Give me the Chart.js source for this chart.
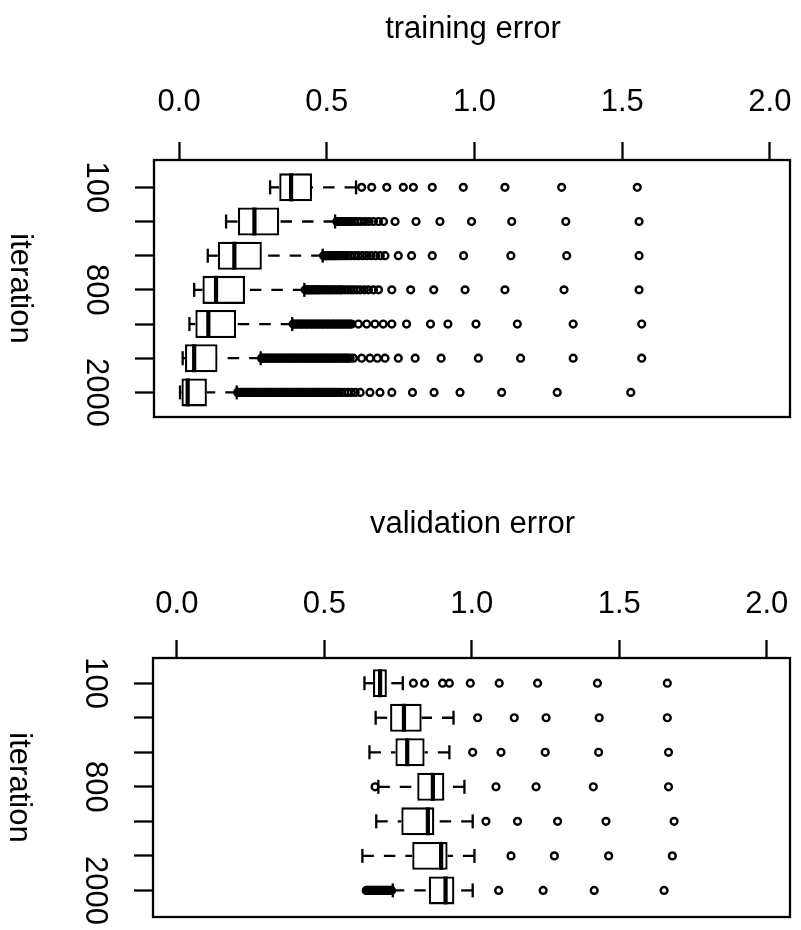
<!DOCTYPE html>
<html>
<head>
<meta charset="utf-8">
<script src="https://cdn.jsdelivr.net/npm/chart.js@4/dist/chart.umd.min.js"></script>
<style>
  html, body { margin: 0; padding: 0; background: #fff; }
  #wrap { position: relative; width: 801px; height: 930px; background: #fff; }
  canvas { position: absolute; left: 0; }
</style>
</head>
<body>
<div id="wrap">
  <canvas id="train" width="801" height="497" style="top:0"></canvas>
  <canvas id="valid" width="801" height="433" style="top:497px"></canvas>
</div>
<script>
// Row labels (only some iterations are labelled on the axis)
const iterationLabels = ['100', '', '', '800', '', '', '2000'];
const xTickValues = [0, 0.5, 1, 1.5, 2];
const xTickLabels = ['0.0', '0.5', '1.0', '1.5', '2.0'];

// ---- training error: five-number summaries per iteration row ----
const trainLower  = [0.308, 0.159, 0.097, 0.051, 0.035, 0.012, 0.003];
const trainQ1     = [0.339, 0.199, 0.131, 0.079, 0.055, 0.020, 0.008];
const trainMedian = [0.379, 0.255, 0.187, 0.125, 0.099, 0.051, 0.029];
const trainQ3     = [0.450, 0.339, 0.280, 0.223, 0.193, 0.130, 0.094];
const trainUpper  = [0.599, 0.528, 0.486, 0.424, 0.383, 0.276, 0.195];

const trainOut1 = [0.618, 0.652, 0.703, 0.759, 0.793, 0.857, 0.962, 1.103, 1.295, 1.551];
const trainOut2 = [0.534, 0.540, 0.546, 0.552, 0.559, 0.566, 0.574, 0.583, 0.593, 0.604,
  0.616, 0.629, 0.643, 0.658, 0.675, 0.692, 0.731, 0.802, 0.883, 0.990, 1.126, 1.309, 1.557];
const trainOut3 = [0.489, 0.493, 0.497, 0.501, 0.505, 0.509, 0.513, 0.517, 0.521, 0.526,
  0.531, 0.536, 0.542, 0.548, 0.555, 0.563, 0.572, 0.582, 0.594, 0.607, 0.621, 0.635,
  0.650, 0.665, 0.681, 0.697, 0.742, 0.787, 0.857, 0.963, 1.123, 1.312, 1.557];
const trainOut4 = [0.427, 0.432, 0.437, 0.442, 0.447, 0.452, 0.457, 0.462, 0.467, 0.472,
  0.477, 0.483, 0.489, 0.495, 0.501, 0.507, 0.513, 0.519, 0.526, 0.533, 0.540, 0.546,
  0.552, 0.562, 0.571, 0.581, 0.590, 0.601, 0.613, 0.627, 0.641, 0.658, 0.675, 0.720,
  0.784, 0.862, 0.968, 1.103, 1.303, 1.557];
const trainOut5 = [0.386, 0.391, 0.397, 0.402, 0.409, 0.414, 0.420, 0.427, 0.432, 0.438,
  0.445, 0.450, 0.456, 0.463, 0.468, 0.474, 0.481, 0.486, 0.492, 0.499, 0.504, 0.510,
  0.517, 0.522, 0.528, 0.535, 0.540, 0.547, 0.553, 0.559, 0.566, 0.571, 0.578, 0.584,
  0.607, 0.635, 0.663, 0.691, 0.720, 0.770, 0.851, 0.910, 1.005, 1.145, 1.334, 1.566];
const trainOut6 = [0.279, 0.284, 0.290, 0.296, 0.301, 0.307, 0.314, 0.319, 0.325, 0.332,
  0.337, 0.343, 0.350, 0.355, 0.361, 0.368, 0.373, 0.379, 0.386, 0.391, 0.397, 0.404,
  0.409, 0.415, 0.422, 0.427, 0.433, 0.440, 0.445, 0.451, 0.458, 0.463, 0.469, 0.476,
  0.481, 0.487, 0.494, 0.499, 0.505, 0.512, 0.517, 0.523, 0.530, 0.535, 0.541, 0.548,
  0.553, 0.560, 0.566, 0.572, 0.579, 0.590, 0.618, 0.646, 0.671, 0.697, 0.742, 0.799,
  0.887, 1.013, 1.156, 1.334, 1.566];
const trainOut7 = [0.198, 0.203, 0.209, 0.215, 0.220, 0.226, 0.232, 0.237, 0.243, 0.250,
  0.255, 0.261, 0.268, 0.273, 0.279, 0.286, 0.291, 0.297, 0.304, 0.309, 0.315, 0.322,
  0.327, 0.333, 0.340, 0.345, 0.351, 0.358, 0.363, 0.369, 0.376, 0.381, 0.387, 0.394,
  0.399, 0.405, 0.412, 0.417, 0.423, 0.430, 0.435, 0.441, 0.448, 0.453, 0.459, 0.466,
  0.471, 0.477, 0.484, 0.489, 0.495, 0.502, 0.507, 0.513, 0.520, 0.526, 0.533, 0.541,
  0.550, 0.560, 0.571, 0.583, 0.596, 0.613, 0.646, 0.680, 0.720, 0.790, 0.863, 0.951,
  1.092, 1.280, 1.529];

// ---- validation error ----
const validLower  = [0.636, 0.674, 0.653, 0.683, 0.676, 0.629, 0.732];
const validQ1     = [0.665, 0.723, 0.741, 0.815, 0.761, 0.798, 0.854];
const validMedian = [0.689, 0.770, 0.781, 0.868, 0.851, 0.896, 0.911];
const validQ3     = [0.712, 0.830, 0.840, 0.907, 0.873, 0.918, 0.941];
const validUpper  = [0.766, 0.938, 0.924, 0.975, 1.003, 1.009, 1.003];

const validOut1 = [0.802, 0.840, 0.901, 0.924, 0.995, 1.093, 1.223, 1.426, 1.663];
const validOut2 = [1.020, 1.144, 1.252, 1.432, 1.663];
const validOut3 = [1.003, 1.099, 1.249, 1.430, 1.667];
const validOut4 = [0.672, 1.082, 1.218, 1.412, 1.667];
const validOut5 = [1.048, 1.155, 1.291, 1.455, 1.686];
const validOut6 = [1.133, 1.280, 1.464, 1.680];
const validOut7 = [0.642, 0.646, 0.651, 0.655, 0.660, 0.664, 0.669, 0.673, 0.678, 0.682,
  0.687, 0.691, 0.696, 0.700, 0.705, 0.709, 0.714, 0.718, 0.723, 0.728,
  1.091, 1.242, 1.415, 1.652];

const FONT = '31px "Liberation Sans", Arial, Helvetica, sans-serif';
const LINE = 2.3;
Chart.defaults.font.family = '"Liberation Sans", Arial, Helvetica, sans-serif';
Chart.defaults.color = '#000';

// Whiskers, staples, medians, frame and text for one boxplot panel
function boxPanel(p) {
  return {
    id: 'boxPanel',
    beforeDatasetsDraw(chart) {
      const { ctx } = chart;
      const xs = chart.scales.x, ys = chart.scales.y;
      const bars = chart.getDatasetMeta(0).data;
      ctx.save();
      ctx.strokeStyle = '#000';
      ctx.lineWidth = LINE;
      ctx.lineCap = 'butt';
      p.lower.forEach((lo, i) => {
        const y = ys.getPixelForValue(i + 1);
        const h = bars[i].height;
        [[lo, p.q1[i]], [p.upper[i], p.q3[i]]].forEach(([end, hinge]) => {
          const xe = xs.getPixelForValue(end);
          const xh = xs.getPixelForValue(hinge);
          // dashed whisker, drawn from its end towards the box
          ctx.setLineDash([11.5, 10]);
          ctx.beginPath(); ctx.moveTo(xe, y); ctx.lineTo(xh, y); ctx.stroke();
          // staple
          ctx.setLineDash([]);
          ctx.beginPath(); ctx.moveTo(xe, y - h / 4); ctx.lineTo(xe, y + h / 4); ctx.stroke();
        });
      });
      ctx.restore();
    },
    afterDatasetsDraw(chart) {
      const { ctx, chartArea: a } = chart;
      const xs = chart.scales.x, ys = chart.scales.y;
      const bars = chart.getDatasetMeta(0).data;
      ctx.save();
      ctx.strokeStyle = '#000';
      // medians
      ctx.lineWidth = 4.2;
      p.median.forEach((m, i) => {
        const y = ys.getPixelForValue(i + 1);
        const h = bars[i].height;
        const x = xs.getPixelForValue(m);
        ctx.beginPath(); ctx.moveTo(x, y - h / 2); ctx.lineTo(x, y + h / 2); ctx.stroke();
      });
      // frame
      ctx.lineWidth = LINE;
      ctx.strokeRect(a.left, a.top, a.right - a.left, a.bottom - a.top);

      ctx.fillStyle = '#000';
      ctx.font = FONT;
      // title
      ctx.textAlign = 'center';
      ctx.textBaseline = 'alphabetic';
      ctx.fillText(p.title, (a.left + a.right) / 2 + 1, a.top - p.titleGap);
      // x tick labels
      ctx.textBaseline = 'middle';
      xTickValues.forEach((v, i) => {
        ctx.fillText(xTickLabels[i], xs.getPixelForValue(v), a.top - p.tickLabelGap);
      });
      // y tick labels and axis title, rotated to read downwards
      iterationLabels.forEach((lab, i) => {
        if (!lab) return;
        ctx.save();
        ctx.translate(a.left - 58, ys.getPixelForValue(i + 1));
        ctx.rotate(Math.PI / 2);
        ctx.fillText(lab, 0, 0);
        ctx.restore();
      });
      ctx.save();
      ctx.translate(a.left - 134, (a.top + a.bottom) / 2);
      ctx.rotate(Math.PI / 2);
      ctx.fillText('iteration', 0, 0);
      ctx.restore();
      ctx.restore();
    }
  };
}

function makeChart(id, p) {
  return new Chart(document.getElementById(id), {
    type: 'bar',
    data: {
      datasets: [
        {
          type: 'bar',
          indexAxis: 'y',
          data: p.q1.map((q, i) => ({ x: [q, p.q3[i]], y: i + 1 })),
          backgroundColor: '#fff',
          borderColor: '#000',
          borderWidth: LINE,
          borderSkipped: false,
          barPercentage: p.boxFrac,
          categoryPercentage: 1
        },
        {
          type: 'scatter',
          data: p.outliers.flatMap((row, i) => row.map(v => ({ x: v, y: i + 1 }))),
          pointStyle: 'circle',
          pointRadius: 3.4,
          pointHoverRadius: 3.4,
          pointBorderWidth: 2.4,
          pointBorderColor: '#000',
          pointBackgroundColor: 'rgba(0,0,0,0)',
          showLine: false
        }
      ]
    },
    options: {
      responsive: false,
      animation: false,
      events: [],
      indexAxis: 'y',
      layout: { padding: p.padding },
      plugins: { legend: { display: false }, tooltip: { enabled: false }, title: { display: false } },
      scales: {
        x: {
          type: 'linear', position: 'top', min: p.xMin, max: p.xMax, bounds: 'data',
          grid: { drawOnChartArea: false, drawTicks: true, tickLength: 18, tickWidth: LINE, tickColor: '#000' },
          border: { display: false },
          ticks: { display: false },
          afterBuildTicks: s => { s.ticks = xTickValues.map(v => ({ value: v })); }
        },
        y: {
          type: 'linear', position: 'left', reverse: true, min: p.yMin, max: p.yMax, bounds: 'data',
          offset: false,
          grid: { offset: false, drawOnChartArea: false, drawTicks: true, tickLength: 19, tickWidth: LINE, tickColor: '#000' },
          border: { display: false },
          ticks: { display: false },
          afterBuildTicks: s => { s.ticks = iterationLabels.map((_, i) => ({ value: i + 1 })); }
        }
      }
    },
    plugins: [boxPanel(p)]
  });
}

makeChart('train', {
  title: 'training error',
  lower: trainLower, q1: trainQ1, median: trainMedian, q3: trainQ3, upper: trainUpper,
  outliers: [trainOut1, trainOut2, trainOut3, trainOut4, trainOut5, trainOut6, trainOut7],
  xMin: -0.085, xMax: 2.068, yMin: 0.2, yMax: 7.72, boxFrac: 0.82,
  padding: { left: 135, right: 11, top: 142, bottom: 80 },
  titleGap: 121.7, tickLabelGap: 57.5
});

makeChart('valid', {
  title: 'validation error',
  lower: validLower, q1: validQ1, median: validMedian, q3: validQ3, upper: validUpper,
  outliers: [validOut1, validOut2, validOut3, validOut4, validOut5, validOut6, validOut7],
  xMin: -0.081, xMax: 2.079, yMin: 0.27, yMax: 7.77, boxFrac: 0.81,
  padding: { left: 134, right: 11, top: 143, bottom: 13 },
  titleGap: 125, tickLabelGap: 54
});
</script>
</body>
</html>
